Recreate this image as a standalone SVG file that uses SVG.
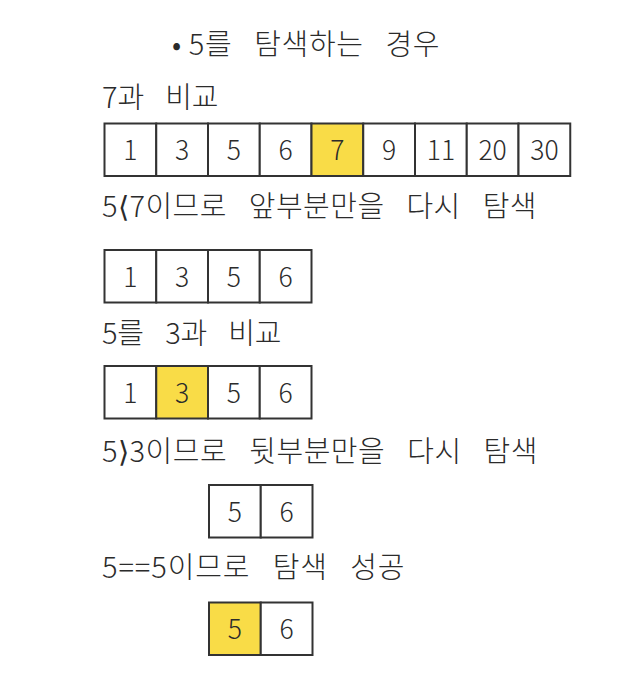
<svg xmlns="http://www.w3.org/2000/svg" width="640" height="678" viewBox="0 0 640 678">
<style>
.t{font-family:"Noto Sans CJK KR","Noto Sans",sans-serif;font-size:29px;font-weight:300;fill:#2b2b2b;letter-spacing:-1.5px;word-spacing:15px;}
.b{word-spacing:0;}
.c{fill:#fff;stroke:#333;stroke-width:2;}
.h{fill:#F9DC47;}
.n{font-family:"Noto Sans CJK KR","Noto Sans",sans-serif;font-size:26.5px;font-weight:300;fill:#2b2b2b;text-anchor:middle;}
</style>
<rect width="640" height="678" fill="#fff"/>
<g id="title"><text class="t" x="172" y="55" textLength="266" lengthAdjust="spacing"><tspan class="b">• </tspan>5를 탐색하는 경우</text></g>
<g id="label1"><text class="t" x="102" y="108" textLength="115" lengthAdjust="spacing">7과 비교</text></g>
<g id="row1">
<rect class="c" x="104.5" y="123.5" width="51.75" height="52.5"/>
<rect class="c" x="156.25" y="123.5" width="51.75" height="52.5"/>
<rect class="c" x="208" y="123.5" width="51.75" height="52.5"/>
<rect class="c" x="259.75" y="123.5" width="51.75" height="52.5"/>
<rect class="c h" x="311.5" y="123.5" width="51.75" height="52.5"/>
<rect class="c" x="363.25" y="123.5" width="51.75" height="52.5"/>
<rect class="c" x="415" y="123.5" width="51.75" height="52.5"/>
<rect class="c" x="466.75" y="123.5" width="51.75" height="52.5"/>
<rect class="c" x="518.5" y="123.5" width="51.75" height="52.5"/>
<text class="n" y="160"><tspan x="130.4">1</tspan><tspan x="182.1">3</tspan><tspan x="233.9">5</tspan><tspan x="285.6">6</tspan><tspan x="337.4">7</tspan><tspan x="389.1">9</tspan><tspan x="440.9">11</tspan><tspan x="492.6">20</tspan><tspan x="544.4">30</tspan></text>
</g>
<g id="label2"><text class="t" x="102" y="216.5" textLength="433" lengthAdjust="spacing">5⟨7이므로 앞부분만을 다시 탐색</text></g>
<g id="row2">
<rect class="c" x="104.5" y="250" width="51.75" height="52.5"/>
<rect class="c" x="156.25" y="250" width="51.75" height="52.5"/>
<rect class="c" x="208" y="250" width="51.75" height="52.5"/>
<rect class="c" x="259.75" y="250" width="51.75" height="52.5"/>
<text class="n" y="286.5"><tspan x="130.4">1</tspan><tspan x="182.1">3</tspan><tspan x="233.9">5</tspan><tspan x="285.6">6</tspan></text>
</g>
<g id="label3"><text class="t" x="102" y="344" textLength="178" lengthAdjust="spacing">5를 3과 비교</text></g>
<g id="row3">
<rect class="c" x="104.5" y="366" width="51.75" height="52.5"/>
<rect class="c h" x="156.25" y="366" width="51.75" height="52.5"/>
<rect class="c" x="208" y="366" width="51.75" height="52.5"/>
<rect class="c" x="259.75" y="366" width="51.75" height="52.5"/>
<text class="n" y="402.5"><tspan x="130.4">1</tspan><tspan x="182.1">3</tspan><tspan x="233.9">5</tspan><tspan x="285.6">6</tspan></text>
</g>
<g id="label4"><text class="t" x="102" y="462" textLength="434" lengthAdjust="spacing">5⟩3이므로 뒷부분만을 다시 탐색</text></g>
<g id="row4">
<rect class="c" x="209" y="485" width="51.75" height="52.5"/>
<rect class="c" x="260.75" y="485" width="51.75" height="52.5"/>
<text class="n" y="521.5"><tspan x="234.9">5</tspan><tspan x="286.6">6</tspan></text>
</g>
<g id="label5"><text class="t" x="102" y="578" textLength="301" lengthAdjust="spacing">5==5이므로 탐색 성공</text></g>
<g id="row5">
<rect class="c h" x="209" y="602.5" width="51.75" height="52.5"/>
<rect class="c" x="260.75" y="602.5" width="51.75" height="52.5"/>
<text class="n" y="639"><tspan x="234.9">5</tspan><tspan x="286.6">6</tspan></text>
</g>
</svg>
